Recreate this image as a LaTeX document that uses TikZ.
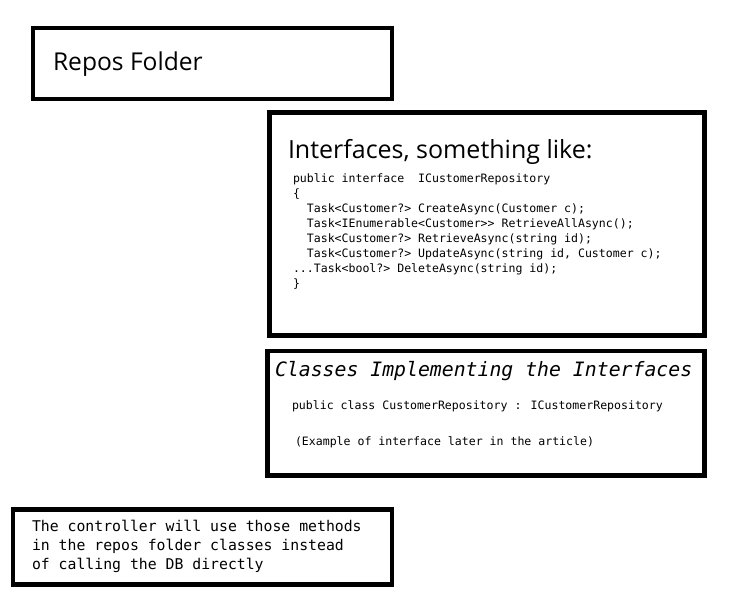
\documentclass[tikz,border=0pt]{standalone}
\usepackage{fontspec}
\setmainfont{Open Sans}
\newfontfamily\codefont{DejaVu Sans Mono}
\usetikzlibrary{positioning}

\begin{document}
\begin{tikzpicture}[x=1pt, y=-1pt, inner sep=0pt, outer sep=0pt,
    frame/.style={line width=4.5pt},
    heading/.style={font=\fontsize{24.6}{28}\selectfont, anchor=base west},
    codetext/.style={font=\codefont\fontsize{11.55}{15}\selectfont, align=left, anchor=base west},
    notetext/.style={font=\codefont\fontsize{14.8}{19}\selectfont, align=left, anchor=base west}]
    \useasboundingbox (0,0) rectangle (730,600);
    \fill[white] (0,0) rectangle (730,600);

    % Repos folder
    \draw[frame] (33,28) rectangle (392,99);
    \node[heading] (repos) at (53,70) {Repos Folder};

    % Interfaces (multi-line nodes sit on their last baseline)
    \draw[frame] (269.5,112.5) rectangle (704.5,335.5);
    \node[heading, font=\fontsize{25}{29}\selectfont] (ifacetitle) at (288,158) {Interfaces, something like:};
    \node[codetext] (ifacecode) at (293,287) {public interface\ \ ICustomerRepository\\
        \{\\
        \ \ Task<Customer?> CreateAsync(Customer c);\\
        \ \ Task<IEnumerable<Customer>{}> RetrieveAllAsync();\\
        \ \ Task<Customer?> RetrieveAsync(string id);\\
        \ \ Task<Customer?> UpdateAsync(string id, Customer c);\\
        ...Task<bool?> DeleteAsync(string id);\\
        \}};

    % Classes implementing the interfaces
    \draw[frame] (267.5,351) rectangle (704.5,475.5);
    \node[heading, font=\codefont\itshape\fontsize{19.8}{24}\selectfont] (classtitle) at (275,376) {Classes Implementing the Interfaces};
    \node[codetext] (classcode) at (292,409) {public class CustomerRepository : ICustomerRepository};
    \node[codetext] (classnote) at (295,445) {(Example of interface later in the article)};

    % Controller note
    \draw[frame] (13,509.5) rectangle (392,584.5);
    \node[notetext] (controller) at (32,569) {The controller will use those methods\\
        in the repos folder classes instead\\
        of calling the DB directly};
\end{tikzpicture}
\end{document}
